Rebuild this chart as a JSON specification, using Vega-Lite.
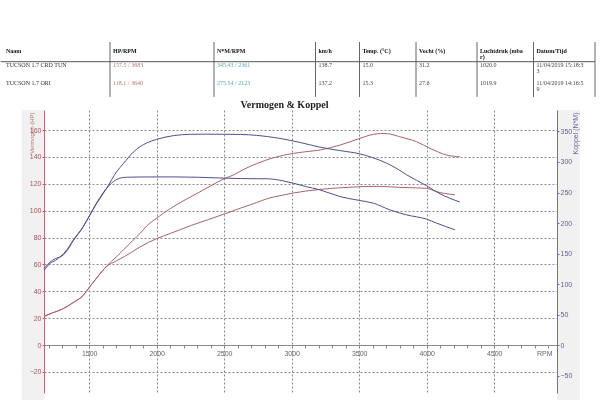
{
  "$schema": "https://vega.github.io/schema/vega-lite/v6.json",
  "width": 513,
  "height": 283,
  "autosize": {"type": "none"},
  "padding": {"left": 44, "top": 110, "right": 43, "bottom": 27},
  "background": "white",
  "view": {"stroke": null},
  "title": {"text": "Vermogen & Koppel", "font": "Liberation Serif", "fontSize": 10, "fontWeight": "bold", "color": "#222222", "anchor": "middle", "dx": -16, "dy": 72, "offset": 3, "frame": "group"},
  "datasets": {
    "curves": [
      {"measure": "HP", "run": "TUN", "rpm": 1167, "value": 21.5},
      {"measure": "HP", "run": "TUN", "rpm": 1230, "value": 24},
      {"measure": "HP", "run": "TUN", "rpm": 1296, "value": 26.5},
      {"measure": "HP", "run": "TUN", "rpm": 1380, "value": 31.5},
      {"measure": "HP", "run": "TUN", "rpm": 1456, "value": 37},
      {"measure": "HP", "run": "TUN", "rpm": 1505, "value": 43.5},
      {"measure": "HP", "run": "TUN", "rpm": 1560, "value": 50.5},
      {"measure": "HP", "run": "TUN", "rpm": 1629, "value": 58.8},
      {"measure": "HP", "run": "TUN", "rpm": 1700, "value": 65.5},
      {"measure": "HP", "run": "TUN", "rpm": 1752, "value": 70.7},
      {"measure": "HP", "run": "TUN", "rpm": 1820, "value": 77.5},
      {"measure": "HP", "run": "TUN", "rpm": 1876, "value": 83},
      {"measure": "HP", "run": "TUN", "rpm": 1925, "value": 88.5},
      {"measure": "HP", "run": "TUN", "rpm": 2000, "value": 94.5},
      {"measure": "HP", "run": "TUN", "rpm": 2100, "value": 101.5},
      {"measure": "HP", "run": "TUN", "rpm": 2246, "value": 110},
      {"measure": "HP", "run": "TUN", "rpm": 2320, "value": 114},
      {"measure": "HP", "run": "TUN", "rpm": 2400, "value": 118.5},
      {"measure": "HP", "run": "TUN", "rpm": 2505, "value": 124},
      {"measure": "HP", "run": "TUN", "rpm": 2567, "value": 126.5},
      {"measure": "HP", "run": "TUN", "rpm": 2640, "value": 130.5},
      {"measure": "HP", "run": "TUN", "rpm": 2740, "value": 135},
      {"measure": "HP", "run": "TUN", "rpm": 2870, "value": 139.5},
      {"measure": "HP", "run": "TUN", "rpm": 3011, "value": 142.6},
      {"measure": "HP", "run": "TUN", "rpm": 3100, "value": 143.8},
      {"measure": "HP", "run": "TUN", "rpm": 3209, "value": 145.1},
      {"measure": "HP", "run": "TUN", "rpm": 3357, "value": 148.8},
      {"measure": "HP", "run": "TUN", "rpm": 3505, "value": 153.8},
      {"measure": "HP", "run": "TUN", "rpm": 3579, "value": 156.2},
      {"measure": "HP", "run": "TUN", "rpm": 3683, "value": 157.5},
      {"measure": "HP", "run": "TUN", "rpm": 3750, "value": 156.5},
      {"measure": "HP", "run": "TUN", "rpm": 3801, "value": 155},
      {"measure": "HP", "run": "TUN", "rpm": 3925, "value": 151.3},
      {"measure": "HP", "run": "TUN", "rpm": 4024, "value": 146.4},
      {"measure": "HP", "run": "TUN", "rpm": 4147, "value": 141.4},
      {"measure": "HP", "run": "TUN", "rpm": 4245, "value": 140.1},

      {"measure": "HP", "run": "ORI", "rpm": 1167, "value": 21.3},
      {"measure": "HP", "run": "ORI", "rpm": 1230, "value": 24},
      {"measure": "HP", "run": "ORI", "rpm": 1296, "value": 26.5},
      {"measure": "HP", "run": "ORI", "rpm": 1380, "value": 31.5},
      {"measure": "HP", "run": "ORI", "rpm": 1456, "value": 37},
      {"measure": "HP", "run": "ORI", "rpm": 1505, "value": 43.5},
      {"measure": "HP", "run": "ORI", "rpm": 1560, "value": 50.5},
      {"measure": "HP", "run": "ORI", "rpm": 1629, "value": 58.5},
      {"measure": "HP", "run": "ORI", "rpm": 1700, "value": 62.5},
      {"measure": "HP", "run": "ORI", "rpm": 1760, "value": 65.8},
      {"measure": "HP", "run": "ORI", "rpm": 1820, "value": 69.5},
      {"measure": "HP", "run": "ORI", "rpm": 1876, "value": 73},
      {"measure": "HP", "run": "ORI", "rpm": 2000, "value": 79.2},
      {"measure": "HP", "run": "ORI", "rpm": 2100, "value": 83},
      {"measure": "HP", "run": "ORI", "rpm": 2250, "value": 88.8},
      {"measure": "HP", "run": "ORI", "rpm": 2381, "value": 93.3},
      {"measure": "HP", "run": "ORI", "rpm": 2500, "value": 97.5},
      {"measure": "HP", "run": "ORI", "rpm": 2620, "value": 101.8},
      {"measure": "HP", "run": "ORI", "rpm": 2740, "value": 106},
      {"measure": "HP", "run": "ORI", "rpm": 2830, "value": 109.3},
      {"measure": "HP", "run": "ORI", "rpm": 2937, "value": 111.6},
      {"measure": "HP", "run": "ORI", "rpm": 3011, "value": 113.1},
      {"measure": "HP", "run": "ORI", "rpm": 3100, "value": 114.5},
      {"measure": "HP", "run": "ORI", "rpm": 3209, "value": 115.8},
      {"measure": "HP", "run": "ORI", "rpm": 3357, "value": 117},
      {"measure": "HP", "run": "ORI", "rpm": 3505, "value": 117.8},
      {"measure": "HP", "run": "ORI", "rpm": 3640, "value": 118.1},
      {"measure": "HP", "run": "ORI", "rpm": 3801, "value": 117.3},
      {"measure": "HP", "run": "ORI", "rpm": 3900, "value": 117},
      {"measure": "HP", "run": "ORI", "rpm": 4000, "value": 116.6},
      {"measure": "HP", "run": "ORI", "rpm": 4073, "value": 114.1},
      {"measure": "HP", "run": "ORI", "rpm": 4209, "value": 111.8},

      {"measure": "Nm", "run": "TUN", "rpm": 1167, "value": 126},
      {"measure": "Nm", "run": "TUN", "rpm": 1210, "value": 136},
      {"measure": "Nm", "run": "TUN", "rpm": 1250, "value": 142},
      {"measure": "Nm", "run": "TUN", "rpm": 1290, "value": 145},
      {"measure": "Nm", "run": "TUN", "rpm": 1330, "value": 153},
      {"measure": "Nm", "run": "TUN", "rpm": 1381, "value": 171},
      {"measure": "Nm", "run": "TUN", "rpm": 1456, "value": 194},
      {"measure": "Nm", "run": "TUN", "rpm": 1505, "value": 213},
      {"measure": "Nm", "run": "TUN", "rpm": 1555, "value": 232},
      {"measure": "Nm", "run": "TUN", "rpm": 1629, "value": 257},
      {"measure": "Nm", "run": "TUN", "rpm": 1703, "value": 284},
      {"measure": "Nm", "run": "TUN", "rpm": 1752, "value": 297},
      {"measure": "Nm", "run": "TUN", "rpm": 1826, "value": 316},
      {"measure": "Nm", "run": "TUN", "rpm": 1925, "value": 331},
      {"measure": "Nm", "run": "TUN", "rpm": 2000, "value": 337},
      {"measure": "Nm", "run": "TUN", "rpm": 2122, "value": 343},
      {"measure": "Nm", "run": "TUN", "rpm": 2250, "value": 345.2},
      {"measure": "Nm", "run": "TUN", "rpm": 2361, "value": 345.43},
      {"measure": "Nm", "run": "TUN", "rpm": 2500, "value": 345.3},
      {"measure": "Nm", "run": "TUN", "rpm": 2620, "value": 345},
      {"measure": "Nm", "run": "TUN", "rpm": 2740, "value": 343.5},
      {"measure": "Nm", "run": "TUN", "rpm": 2900, "value": 339},
      {"measure": "Nm", "run": "TUN", "rpm": 3060, "value": 332},
      {"measure": "Nm", "run": "TUN", "rpm": 3209, "value": 324.2},
      {"measure": "Nm", "run": "TUN", "rpm": 3357, "value": 318.6},
      {"measure": "Nm", "run": "TUN", "rpm": 3505, "value": 313.2},
      {"measure": "Nm", "run": "TUN", "rpm": 3600, "value": 307},
      {"measure": "Nm", "run": "TUN", "rpm": 3703, "value": 298},
      {"measure": "Nm", "run": "TUN", "rpm": 3780, "value": 289},
      {"measure": "Nm", "run": "TUN", "rpm": 3851, "value": 279},
      {"measure": "Nm", "run": "TUN", "rpm": 3999, "value": 261},
      {"measure": "Nm", "run": "TUN", "rpm": 4098, "value": 248},
      {"measure": "Nm", "run": "TUN", "rpm": 4245, "value": 234.5},

      {"measure": "Nm", "run": "ORI", "rpm": 1167, "value": 123},
      {"measure": "Nm", "run": "ORI", "rpm": 1210, "value": 134},
      {"measure": "Nm", "run": "ORI", "rpm": 1250, "value": 139},
      {"measure": "Nm", "run": "ORI", "rpm": 1290, "value": 146},
      {"measure": "Nm", "run": "ORI", "rpm": 1330, "value": 155},
      {"measure": "Nm", "run": "ORI", "rpm": 1381, "value": 172},
      {"measure": "Nm", "run": "ORI", "rpm": 1456, "value": 194.5},
      {"measure": "Nm", "run": "ORI", "rpm": 1505, "value": 213.5},
      {"measure": "Nm", "run": "ORI", "rpm": 1555, "value": 233},
      {"measure": "Nm", "run": "ORI", "rpm": 1629, "value": 257},
      {"measure": "Nm", "run": "ORI", "rpm": 1680, "value": 268},
      {"measure": "Nm", "run": "ORI", "rpm": 1720, "value": 273},
      {"measure": "Nm", "run": "ORI", "rpm": 1777, "value": 275},
      {"measure": "Nm", "run": "ORI", "rpm": 1875, "value": 275.4},
      {"measure": "Nm", "run": "ORI", "rpm": 2000, "value": 275.5},
      {"measure": "Nm", "run": "ORI", "rpm": 2123, "value": 275.54},
      {"measure": "Nm", "run": "ORI", "rpm": 2300, "value": 275},
      {"measure": "Nm", "run": "ORI", "rpm": 2505, "value": 273.5},
      {"measure": "Nm", "run": "ORI", "rpm": 2740, "value": 272.5},
      {"measure": "Nm", "run": "ORI", "rpm": 2820, "value": 272.5},
      {"measure": "Nm", "run": "ORI", "rpm": 2937, "value": 269},
      {"measure": "Nm", "run": "ORI", "rpm": 3011, "value": 265.3},
      {"measure": "Nm", "run": "ORI", "rpm": 3100, "value": 260},
      {"measure": "Nm", "run": "ORI", "rpm": 3209, "value": 254.3},
      {"measure": "Nm", "run": "ORI", "rpm": 3357, "value": 243.4},
      {"measure": "Nm", "run": "ORI", "rpm": 3505, "value": 236.9},
      {"measure": "Nm", "run": "ORI", "rpm": 3604, "value": 232.6},
      {"measure": "Nm", "run": "ORI", "rpm": 3727, "value": 221.6},
      {"measure": "Nm", "run": "ORI", "rpm": 3851, "value": 213.4},
      {"measure": "Nm", "run": "ORI", "rpm": 3999, "value": 206.4},
      {"measure": "Nm", "run": "ORI", "rpm": 4073, "value": 199.9},
      {"measure": "Nm", "run": "ORI", "rpm": 4209, "value": 189}
    ],
    "bands": [
      {"side": "left", "rpm0": 1000, "rpm1": 1165},
      {"side": "right", "rpm0": 4965, "rpm1": 5135}
    ],
    "table": [
      {"row": 0, "col": 0, "kind": "header", "text": "Naam"},
      {"row": 0, "col": 1, "kind": "header", "text": "HP/RPM"},
      {"row": 0, "col": 2, "kind": "header", "text": "N*M/RPM"},
      {"row": 0, "col": 3, "kind": "header", "text": "km/h"},
      {"row": 0, "col": 4, "kind": "header", "text": "Temp. (°C)"},
      {"row": 0, "col": 5, "kind": "header", "text": "Vocht (%)"},
      {"row": 0, "col": 6, "kind": "header", "text": "Luchtdruk (mba\nr)"},
      {"row": 0, "col": 7, "kind": "header", "text": "Datum/Tijd"},
      {"row": 1, "col": 0, "kind": "name", "text": "TUCSON 1.7 CRD TUN"},
      {"row": 1, "col": 1, "kind": "hp", "text": "157.5 / 3683"},
      {"row": 1, "col": 2, "kind": "nm", "text": "345.43 / 2361"},
      {"row": 1, "col": 3, "kind": "other", "text": "138.7"},
      {"row": 1, "col": 4, "kind": "other", "text": "15.0"},
      {"row": 1, "col": 5, "kind": "other", "text": "31.2"},
      {"row": 1, "col": 6, "kind": "other", "text": "1020.0"},
      {"row": 1, "col": 7, "kind": "other", "text": "11/04/2019 15:18:3\n3"},
      {"row": 2, "col": 0, "kind": "name", "text": "TUCSON 1.7 ORI"},
      {"row": 2, "col": 1, "kind": "hp", "text": "118.1 / 3640"},
      {"row": 2, "col": 2, "kind": "nm", "text": "275.54 / 2123"},
      {"row": 2, "col": 3, "kind": "other", "text": "137.2"},
      {"row": 2, "col": 4, "kind": "other", "text": "15.3"},
      {"row": 2, "col": 5, "kind": "other", "text": " 27.6"},
      {"row": 2, "col": 6, "kind": "other", "text": "1019.9"},
      {"row": 2, "col": 7, "kind": "other", "text": "11/04/2019 14:16:5\n9"}
    ],
    "seps": [{"col": 1}, {"col": 2}, {"col": 3}, {"col": 4}, {"col": 5}, {"col": 6}, {"col": 7}, {"col": 8}]
  },
  "layer": [
    {
      "encoding": {
        "x": {"field": "rpm", "type": "quantitative",
          "scale": {"domain": [1165, 4965], "nice": false, "zero": false},
          "axis": {
            "orient": "bottom", "offset": -48,
            "values": [1200,1300,1400,1500,1600,1700,1800,1900,2000,2100,2200,2300,2400,2500,2600,2700,2800,2900,3000,3100,3200,3300,3400,3500,3600,3700,3800,3900,4000,4100,4200,4300,4400,4500,4600,4700,4800,4900],
            "format": "d",
            "labelExpr": "datum.value % 500 === 0 ? datum.label : ''",
            "labelOverlap": false,
            "grid": true,
            "gridOpacity": {"condition": {"test": "datum.value % 500 === 0", "value": 1}, "value": 0},
            "gridColor": "#8a8a8a", "gridDash": [2, 2], "gridWidth": 1,
            "domainColor": "#8a8a8a", "tickColor": "#8a8a8a", "tickSize": 3,
            "labelColor": "#666666", "labelFont": "Liberation Sans", "labelFontSize": 7, "labelPadding": 1,
            "title": "RPM", "titleX": 508, "titleY": 10, "titleAlign": "right", "titleBaseline": "alphabetic",
            "titleFont": "Liberation Sans", "titleFontSize": 7, "titleFontWeight": "normal", "titleColor": "#666666"
          }}
      },
      "layer": [
        {
          "data": {"name": "bands"},
          "mark": {"type": "rect", "color": "#f1f1f1", "blend": "multiply"},
          "encoding": {
            "x": {"field": "rpm0", "type": "quantitative"},
            "x2": {"field": "rpm1"},
            "y": {"datum": 174.9, "type": "quantitative", "axis": null,
              "scale": {"domain": [-35.7, 174.9], "nice": false, "zero": false}},
            "y2": {"datum": -41}
          }
        },
        {
          "data": {"name": "curves"},
          "transform": [{"filter": "datum.measure === 'HP'"}],
          "mark": {"type": "line", "color": "#a8646c", "strokeWidth": 1, "interpolate": "monotone"},
          "encoding": {
            "y": {"field": "value", "type": "quantitative",
              "scale": {"domain": [-35.7, 174.9], "nice": false, "zero": false},
              "axis": {
                "orient": "left",
                "values": [-20, 0, 20, 40, 60, 80, 100, 120, 140, 160],
                "grid": true, "gridColor": "#8a8a8a", "gridDash": [2, 2], "gridWidth": 1,
                "domainColor": "#b07078", "tickColor": "#b07078", "tickSize": 2,
                "labelColor": "#b05a5a", "labelFont": "Liberation Sans", "labelFontSize": 7, "labelPadding": 1,
                "title": "Vermogen (HP)", "titleX": -13, "titleY": 2, "titleAngle": -90, "titleAlign": "right", "titleBaseline": "middle",
                "titleFont": "Liberation Sans", "titleFontSize": 6, "titleFontWeight": "normal", "titleColor": "#c07c7c"
              }},
            "detail": {"field": "run"}
          }
        },
        {
          "data": {"name": "curves"},
          "transform": [{"filter": "datum.measure === 'Nm'"}],
          "mark": {"type": "line", "color": "#50508a", "strokeWidth": 1, "interpolate": "monotone"},
          "encoding": {
            "y": {"field": "value", "type": "quantitative",
              "scale": {"domain": [-78, 385], "nice": false, "zero": false},
              "axis": {
                "orient": "right",
                "values": [-50, 0, 50, 100, 150, 200, 250, 300, 350],
                "grid": false,
                "domainColor": "#7878a8", "tickColor": "#7878a8", "tickSize": 2,
                "labelColor": "#6a6aa0", "labelFont": "Liberation Sans", "labelFontSize": 7, "labelPadding": 1,
                "title": "Koppel (N*M)", "titleX": 18, "titleY": 2, "titleAngle": -90, "titleAlign": "right", "titleBaseline": "middle",
                "titleFont": "Liberation Sans", "titleFontSize": 7, "titleFontWeight": "normal", "titleColor": "#7070a8"
              }},
            "detail": {"field": "run"}
          }
        }
      ],
      "resolve": {"scale": {"y": "independent"}}
    },
    {
      "layer": [
        {
          "data": {"name": "table"},
          "transform": [{"filter": "datum.row === 0"}],
          "mark": {"type": "text", "align": "left", "baseline": "top", "font": "Liberation Serif", "fontSize": 6, "fontWeight": "bold", "lineBreak": "\n", "lineHeight": 6, "color": "#111111"},
          "encoding": {
            "x": {"field": "col", "type": "quantitative", "axis": null,
              "scale": {"domain": [0, 1, 2, 3, 4, 5, 6, 7, 8], "range": [-38, 69, 173, 274.5, 318.5, 375, 436, 492.5, 554], "nice": false, "zero": false}},
            "y": {"field": "row", "type": "quantitative", "axis": null,
              "scale": {"domain": [0, 1, 2], "range": [-62, -47.7, -30.4], "nice": false, "zero": false}},
            "text": {"field": "text"}
          }
        },
        {
          "data": {"name": "table"},
          "transform": [{"filter": "datum.row > 0"}],
          "mark": {"type": "text", "align": "left", "baseline": "top", "font": "Liberation Serif", "fontSize": 6, "lineBreak": "\n", "lineHeight": 6},
          "encoding": {
            "x": {"field": "col", "type": "quantitative", "axis": null},
            "y": {"field": "row", "type": "quantitative", "axis": null},
            "text": {"field": "text"},
            "color": {"field": "kind", "type": "nominal", "legend": null,
              "scale": {"domain": ["name", "hp", "nm", "other"], "range": ["#333333", "#b07a70", "#5aa6b0", "#444444"]}}
          }
        },
        {
          "data": {"name": "seps"},
          "mark": {"type": "rule", "color": "#666666", "strokeWidth": 1, "xOffset": -3},
          "encoding": {
            "x": {"field": "col", "type": "quantitative", "axis": null},
            "y": {"datum": -0.42},
            "y2": {"datum": 3.0}
          }
        },
        {
          "data": {"values": [{"line": "header"}]},
          "mark": {"type": "rule", "color": "#555555", "strokeWidth": 1},
          "encoding": {
            "x": {"datum": -0.05},
            "x2": {"datum": 7.95},
            "y": {"datum": 0.958}
          }
        }
      ]
    }
  ],
  "resolve": {"scale": {"x": "independent", "y": "independent", "color": "independent"}}
}
